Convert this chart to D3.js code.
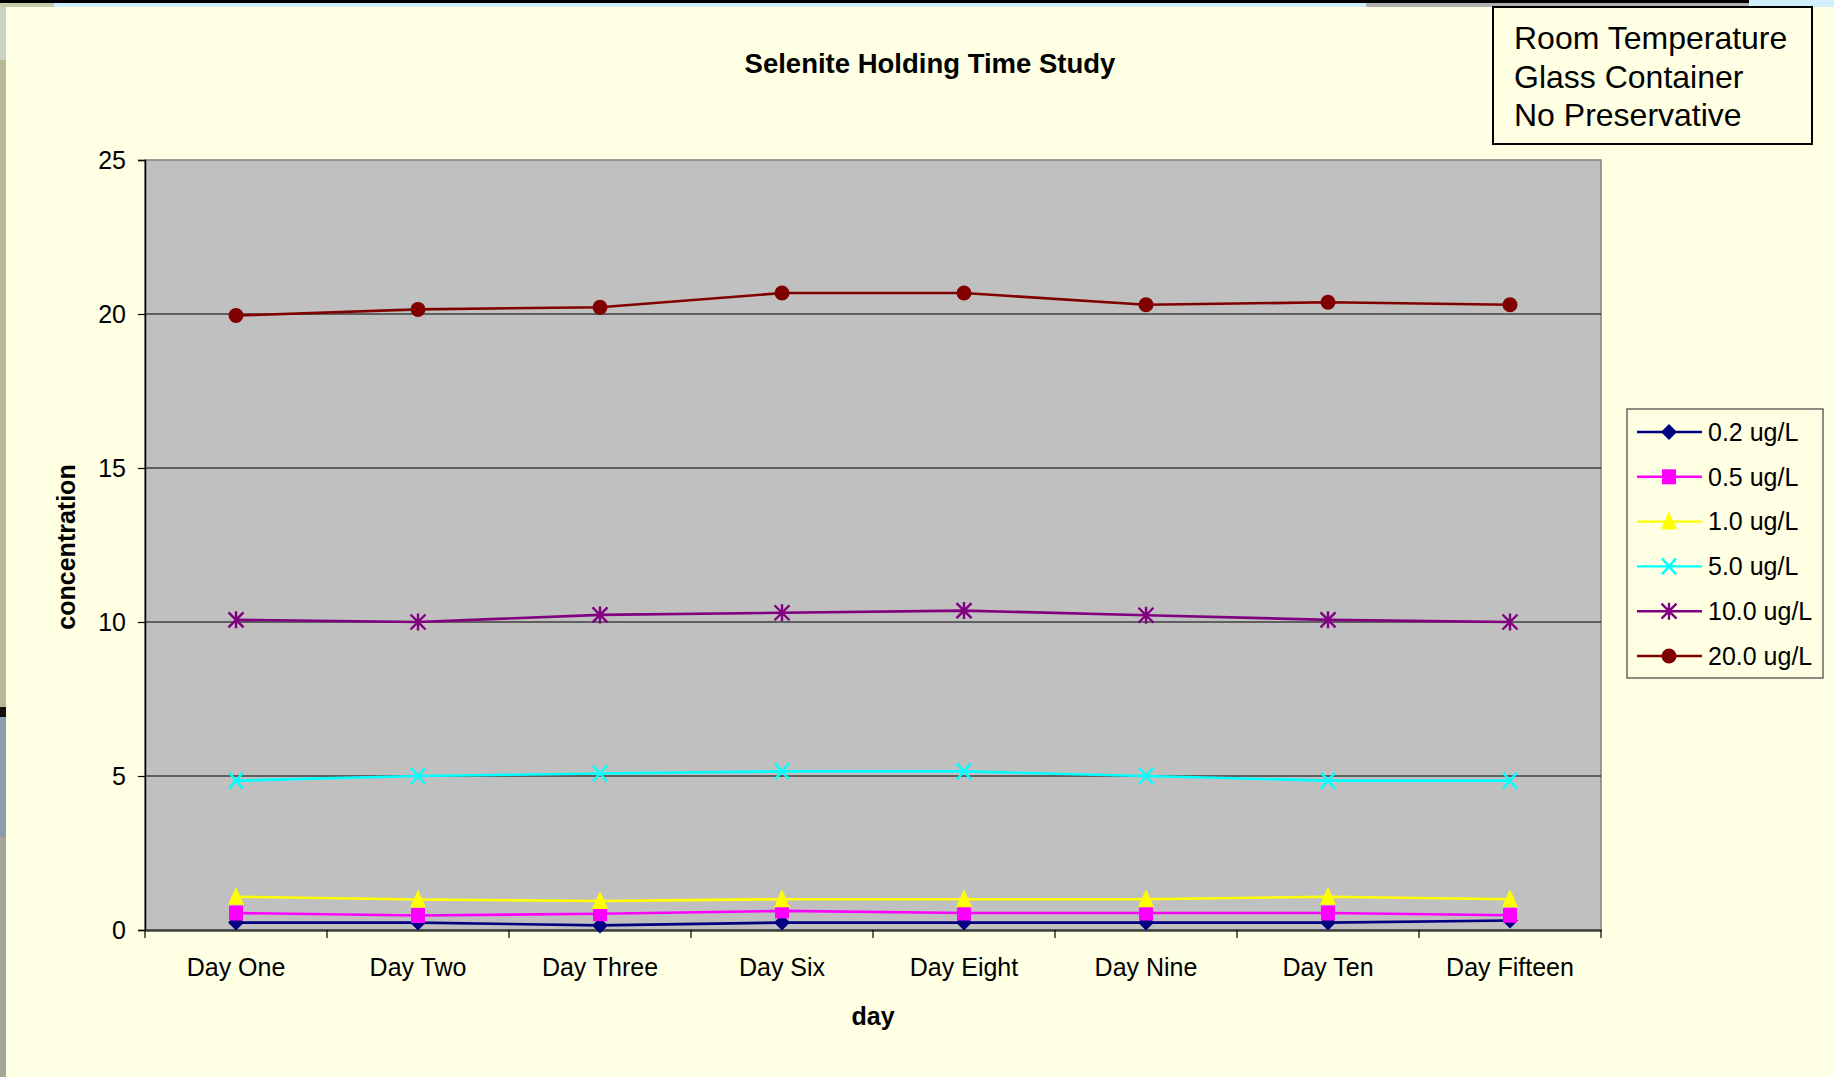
<!DOCTYPE html>
<html>
<head>
<meta charset="utf-8">
<script src="https://cdn.jsdelivr.net/npm/d3@7"></script>
<style>
  html, body { margin: 0; padding: 0; background: #FFFFE3; }
  svg { display: block; font-family: "Liberation Sans", Arial, sans-serif; }
</style>
</head>
<body>
<svg id="chart" width="1834" height="1077"></svg>
<script>
// Sampling days on the x axis
const days = ["Day One", "Day Two", "Day Three", "Day Six", "Day Eight", "Day Nine", "Day Ten", "Day Fifteen"];

// Measured selenite concentration per spike level
const conc02 = [0.24, 0.24, 0.15, 0.24, 0.24, 0.24, 0.24, 0.31];
const conc05 = [0.55, 0.47, 0.53, 0.62, 0.55, 0.55, 0.55, 0.48];
const conc10 = [1.08, 0.99, 0.94, 1.0, 1.0, 1.0, 1.08, 1.0];
const conc50 = [4.85, 5.0, 5.08, 5.15, 5.15, 5.0, 4.85, 4.85];
const conc100 = [10.07, 10.0, 10.23, 10.3, 10.37, 10.22, 10.07, 10.0];
const conc200 = [19.95, 20.15, 20.22, 20.68, 20.68, 20.3, 20.38, 20.3];

const seriesNames = ["0.2 ug/L", "0.5 ug/L", "1.0 ug/L", "5.0 ug/L", "10.0 ug/L", "20.0 ug/L"];
const yTicks = [0, 5, 10, 15, 20, 25];
const noteLines = ["Room Temperature", "Glass Container", "No Preservative"];

const series = [
  { name: seriesNames[0], values: conc02, color: "#000080", marker: "diamond" },
  { name: seriesNames[1], values: conc05, color: "#FF00FF", marker: "square" },
  { name: seriesNames[2], values: conc10, color: "#FFFF00", marker: "triangle" },
  { name: seriesNames[3], values: conc50, color: "#00FFFF", marker: "cross" },
  { name: seriesNames[4], values: conc100, color: "#800080", marker: "asterisk" },
  { name: seriesNames[5], values: conc200, color: "#800000", marker: "circle" }
];

const svg = d3.select("#chart");

// Slide backdrop edges
svg.append("rect").attr("x", 0).attr("y", 0).attr("width", 1834).attr("height", 1077).attr("fill", "#FFFFE3");
svg.append("rect").attr("x", 0).attr("y", 0).attr("width", 6).attr("height", 1077).attr("fill", "#B9B899");
svg.append("rect").attr("x", 0).attr("y", 0).attr("width", 6).attr("height", 60).attr("fill", "#C9D3C4");
svg.append("rect").attr("x", 0).attr("y", 707).attr("width", 6).attr("height", 10).attr("fill", "#111");
svg.append("rect").attr("x", 0).attr("y", 717).attr("width", 6).attr("height", 120).attr("fill", "#8E9DAD");
svg.append("rect").attr("x", 0).attr("y", 837).attr("width", 6).attr("height", 240).attr("fill", "#A4A698");
svg.append("rect").attr("x", 0).attr("y", 0).attr("width", 1834).attr("height", 7).attr("fill", "#CFEFFC");
svg.append("rect").attr("x", 0).attr("y", 0).attr("width", 54).attr("height", 7).attr("fill", "#C8C9A8");
svg.append("rect").attr("x", 1366).attr("y", 3).attr("width", 383).attr("height", 4).attr("fill", "#B0B0B0");
svg.append("rect").attr("x", 0).attr("y", 0).attr("width", 1749).attr("height", 3).attr("fill", "#000");

const plot = { left: 145, right: 1601, top: 160, bottom: 930 };

const x = d3.scaleBand().domain(days).range([plot.left, plot.right]).paddingInner(0).paddingOuter(0);
const y = d3.scaleLinear().domain([0, 25]).range([plot.bottom, plot.top]);
const cx = d => x(d) + x.bandwidth() / 2;

// Plot area
svg.append("rect")
  .attr("x", plot.left).attr("y", plot.top)
  .attr("width", plot.right - plot.left).attr("height", plot.bottom - plot.top)
  .attr("fill", "#C0C0C0").attr("stroke", "#808080").attr("stroke-width", 1.5);

// Horizontal gridlines
svg.append("g").selectAll("line")
  .data(yTicks.filter(t => t > 0 && t < 25))
  .join("line")
  .attr("x1", plot.left).attr("x2", plot.right)
  .attr("y1", d => y(d)).attr("y2", d => y(d))
  .attr("stroke", "#000").attr("stroke-width", 1.2);

// Y axis
const yAxis = svg.append("g")
  .attr("transform", `translate(${plot.left},0)`)
  .call(d3.axisLeft(y).tickValues(yTicks).tickSize(7).tickPadding(12).tickFormat(d3.format("d")));
yAxis.select(".domain").attr("stroke", "#000").attr("stroke-width", 1.5);
yAxis.selectAll(".tick line").attr("stroke", "#000").attr("stroke-width", 1.2);
yAxis.selectAll(".tick text").attr("font-size", 25).attr("fill", "#000")
  .attr("font-family", "Liberation Sans, Arial, sans-serif");

// X axis with ticks at category boundaries
const xAxis = svg.append("g")
  .attr("transform", `translate(0,${plot.bottom})`)
  .call(d3.axisBottom(x).tickSize(0).tickPadding(28));
xAxis.select(".domain").attr("stroke", "#404040").attr("stroke-width", 2.5);
xAxis.selectAll(".tick text").attr("font-size", 25).attr("fill", "#000")
  .attr("font-family", "Liberation Sans, Arial, sans-serif");
const boundaries = days.map(d => x(d)).concat([plot.right]);
xAxis.append("g").selectAll("line")
  .data(boundaries)
  .join("line")
  .attr("x1", d => d).attr("x2", d => d)
  .attr("y1", 0).attr("y2", 8)
  .attr("stroke", "#000").attr("stroke-width", 1.2);

// Marker shapes
function drawMarker(g, kind, color) {
  switch (kind) {
    case "diamond":
      g.append("path").attr("d", "M0,-8 L8,0 L0,8 L-8,0 Z").attr("fill", color);
      break;
    case "square":
      g.append("rect").attr("x", -7).attr("y", -7.5).attr("width", 14).attr("height", 15).attr("fill", color);
      break;
    case "triangle":
      g.append("path").attr("d", "M0,-10 L8,8 L-8,8 Z").attr("fill", color);
      break;
    case "cross":
      g.append("path").attr("d", "M-7,-8 L7,8 M7,-8 L-7,8")
        .attr("stroke", color).attr("stroke-width", 2.4).attr("fill", "none");
      break;
    case "asterisk":
      g.append("path").attr("d", "M-7.5,-7.5 L7.5,7.5 M7.5,-7.5 L-7.5,7.5 M0,-8.5 L0,8.5")
        .attr("stroke", color).attr("stroke-width", 2.4).attr("fill", "none");
      break;
    case "circle":
      g.append("circle").attr("r", 7.5).attr("fill", color);
      break;
  }
}

const line = d3.line().x(d => cx(d.day)).y(d => y(d.v));

series.forEach(s => {
  const pts = s.values.map((v, i) => ({ day: days[i], v }));
  const g = svg.append("g");
  g.append("path").datum(pts).attr("d", line)
    .attr("fill", "none").attr("stroke", s.color).attr("stroke-width", 2.6);
  g.selectAll("g.mk").data(pts).join("g")
    .attr("class", "mk")
    .attr("transform", d => `translate(${cx(d.day)},${y(d.v)})`)
    .each(function () { drawMarker(d3.select(this), s.marker, s.color); });
});

// Title and axis titles
svg.append("text").attr("x", 930).attr("y", 73).attr("text-anchor", "middle")
  .attr("font-size", 27.5).attr("font-weight", "bold").text("Selenite Holding Time Study");
svg.append("text").attr("x", (plot.left + plot.right) / 2).attr("y", 1025).attr("text-anchor", "middle")
  .attr("font-size", 25).attr("font-weight", "bold").text("day");
svg.append("text").attr("transform", "translate(75,547) rotate(-90)").attr("text-anchor", "middle")
  .attr("font-size", 25).attr("font-weight", "bold").text("concentration");

// Legend
const legend = svg.append("g");
legend.append("rect").attr("x", 1627).attr("y", 409).attr("width", 196).attr("height", 269)
  .attr("fill", "#FFFFE3").attr("stroke", "#404040").attr("stroke-width", 1.2);
series.forEach((s, i) => {
  const ly = 432 + i * 44.8;
  const row = legend.append("g");
  row.append("line").attr("x1", 1637).attr("x2", 1702).attr("y1", ly).attr("y2", ly)
    .attr("stroke", s.color).attr("stroke-width", 2.4);
  const mk = row.append("g").attr("transform", `translate(1669,${ly})`);
  drawMarker(mk, s.marker, s.color);
  row.append("text").attr("x", 1708).attr("y", ly).attr("dy", "0.35em")
    .attr("font-size", 25).text(s.name);
});

// Storage condition note
const note = svg.append("g");
note.append("rect").attr("x", 1493).attr("y", 7).attr("width", 319).attr("height", 137)
  .attr("fill", "#FFFFE3").attr("stroke", "#000").attr("stroke-width", 2);
note.selectAll("text").data(noteLines).join("text")
  .attr("x", 1514).attr("y", (d, i) => 38 + i * 38.5).attr("dy", "0.35em")
  .attr("font-size", 32).text(d => d);
</script>
</body>
</html>
